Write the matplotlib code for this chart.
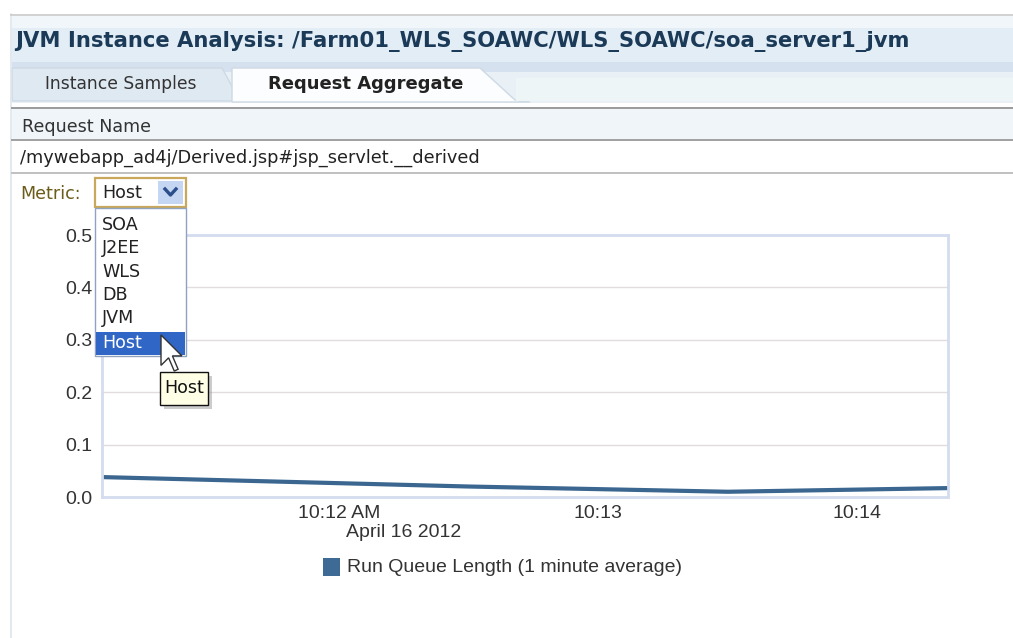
import matplotlib
matplotlib.use("Agg")
import matplotlib.pyplot as plt
import matplotlib.dates as mdates
from matplotlib.patches import Rectangle, Polygon
from datetime import datetime
import numpy as np

# ---------------- data ----------------
title_text = "JVM Instance Analysis: /Farm01_WLS_SOAWC/WLS_SOAWC/soa_server1_jvm"
tab_labels = ["Instance Samples", "Request Aggregate"]
header_label = "Request Name"
request_name = "/mywebapp_ad4j/Derived.jsp#jsp_servlet.__derived"
metric_label = "Metric:"
metric_options = ["SOA", "J2EE", "WLS", "DB", "JVM", "Host"]
selected_metric = "Host"

times = ["10:11:05", "10:12:30", "10:13:30", "10:14:21"]
run_queue = [0.038, 0.020, 0.010, 0.017]
series_name = "Run Queue Length (1 minute average)"
y_ticks = [0.0, 0.1, 0.2, 0.3, 0.4, 0.5]
x_ticks = ["10:12", "10:13", "10:14"]
x_tick_labels = ["10:12 AM", "10:13", "10:14"]
date_label = "April 16 2012"

W, H = 1013, 638
fig = plt.figure(figsize=(W / 100, H / 100), dpi=100)
fig.patch.set_facecolor("white")

UI_FONT = "DejaVu Sans"
CH_FONT = "Liberation Sans"
UI_FS = 12.6
CH_FS = 14

def t(s):
    fmt = "%Y-%m-%d %H:%M:%S" if s.count(":") == 2 else "%Y-%m-%d %H:%M"
    return mdates.date2num(datetime.strptime("2012-04-16 " + s, fmt))

# ---------------- background UI layer ----------------
bg = fig.add_axes([0, 0, 1, 1], zorder=0)
bg.set_xlim(0, W); bg.set_ylim(H, 0); bg.axis("off")

def rect(ax, x0, y0, x1, y1, **kw):
    ax.add_patch(Rectangle((x0, y0), x1 - x0, y1 - y0, **kw))

# left border line
bg.plot([11, 11], [14, H], color="#dde6ee", lw=1.2)
# top line
bg.plot([11, W], [15, 15], color="#c9c9c9", lw=1.2)
# title bar
rect(bg, 12, 16, W, 62, facecolor="#e2edf6", edgecolor="none")
rect(bg, 12, 16, W, 28, facecolor="#f1f6fb", edgecolor="none")
bg.text(15, 42, title_text, fontsize=15.2, fontweight="bold", color="#1b3a57",
        va="center", ha="left", family=UI_FONT)
# tab strip
rect(bg, 12, 62, W, 103, facecolor="#e9f1f7", edgecolor="none")
rect(bg, 12, 62, W, 72, facecolor="#d6e1ef", edgecolor="none")
# inactive tab
bg.add_patch(Polygon([(12, 68), (222, 68), (240, 101), (12, 101)], closed=True,
                     facecolor="#dfe9f2", edgecolor="#cfd9e4", lw=1))
# active tab
bg.add_patch(Polygon([(232, 68), (480, 68), (515, 100), (530, 102), (232, 102)], closed=True,
                     facecolor="#fbfdfe", edgecolor="#cfd9e4", lw=1))
rect(bg, 516, 78, W, 101, facecolor="#eef5f6", edgecolor="none")
bg.text(121, 84, tab_labels[0], fontsize=12.3, color="#333333", ha="center", va="center", family=UI_FONT)
bg.text(366, 84, tab_labels[1], fontsize=13, fontweight="bold", color="#222222", ha="center", va="center", family=UI_FONT)
# header row
bg.plot([12, W], [108, 108], color="#9a9a9a", lw=1.4)
rect(bg, 12, 109, W, 140, facecolor="#eff5f9", edgecolor="none")
bg.text(22, 127, header_label, fontsize=UI_FS, color="#333333", ha="left", va="center", family=UI_FONT)
bg.plot([12, W], [140, 140], color="#a0a0a0", lw=1.4)
bg.text(20, 158, request_name, fontsize=UI_FS + 0.2, color="#222222", ha="left", va="center", family=UI_FONT)
bg.plot([12, W], [173, 173], color="#c0c0c0", lw=1.4)
# metric label
bg.text(20, 194, metric_label, fontsize=UI_FS, color="#6b5c1a", ha="left", va="center", family=UI_FONT)

# ---------------- chart ----------------
L, R, T, B = 102, 948, 235, 497
ax = fig.add_axes([L / W, 1 - B / H, (R - L) / W, (B - T) / H], zorder=1)
ax.set_facecolor("white")
xt = [t(s) for s in times]
ax.plot(xt, run_queue, color="#3a6690", lw=3, solid_capstyle="butt")
ax.set_xlim(t("10:11:05"), t("10:14:21"))
ax.set_ylim(0, 0.5)
ax.set_yticks(y_ticks)
ax.set_yticklabels([f"{v:.1f}" for v in y_ticks], fontsize=CH_FS, color="#333333", family=CH_FONT)
ax.set_xticks([t(s) for s in x_ticks])
ax.set_xticklabels(x_tick_labels, fontsize=CH_FS, color="#333333", family=CH_FONT)
ax.tick_params(length=0)
ax.tick_params(axis="x", pad=6)
ax.tick_params(axis="y", pad=7)
ax.grid(axis="y", color="#e3dcdc", lw=1)
for s in ax.spines.values():
    s.set_color("#d3ddef"); s.set_linewidth(2)
ax.annotate(date_label, xy=(t(x_ticks[0]), 0), xycoords=("data", "axes fraction"),
            xytext=(7, -27), textcoords="offset pixels", ha="left", va="top",
            fontsize=CH_FS, color="#333333", family=CH_FONT, annotation_clip=False)

# ---------------- overlay (legend, dropdown, tooltip) ----------------
ov = fig.add_axes([0, 0, 1, 1], zorder=2)
ov.set_xlim(0, W); ov.set_ylim(H, 0); ov.axis("off"); ov.patch.set_alpha(0)

# legend
rect(ov, 323, 558, 340, 576, facecolor="#3e6a96", edgecolor="none")
ov.text(347, 567, series_name, fontsize=CH_FS, color="#333333", ha="left", va="center", family=CH_FONT)

# dropdown box
rect(ov, 95, 178, 186, 207, facecolor="white", edgecolor="#c9a85c", lw=1.6)
ov.text(102, 193, selected_metric, fontsize=UI_FS, color="#222222", ha="left", va="center", family=UI_FONT)
rect(ov, 158, 181, 183, 204, facecolor="#c5d6f2", edgecolor="none")
ov.plot([165, 170.5, 176], [189, 195, 189], color="#2a4f8a", lw=2.4)

# dropdown list
rect(ov, 95, 208, 186, 356, facecolor="white", edgecolor="#8fa3bf", lw=1)
item_y = [225, 248, 272, 295, 318, 343]
for name, y in zip(metric_options, item_y):
    if name == selected_metric:
        rect(ov, 96, 332, 185, 355, facecolor="#3066c6", edgecolor="none")
        ov.text(102, y, name, fontsize=UI_FS, color="white", ha="left", va="center", family=UI_FONT)
    else:
        ov.text(102, y, name, fontsize=UI_FS, color="#222222", ha="left", va="center", family=UI_FONT)

# tooltip with shadow
rect(ov, 164, 376, 212, 409, facecolor="#9a9a9a", edgecolor="none", alpha=0.5)
rect(ov, 160, 372, 208, 405, facecolor="#ffffe6", edgecolor="#111111", lw=1)
ov.text(184, 388, selected_metric, fontsize=UI_FS, color="#111111", ha="center", va="center", family=UI_FONT)

# mouse cursor
cur = np.array([(0, 0), (0, 16), (4, 12), (7, 19), (9, 18), (6, 11), (11, 11)]) * 1.9
cur = cur + np.array([161, 335])
ov.add_patch(Polygon(cur, closed=True, facecolor="white", edgecolor="#333333", lw=1))

fig.savefig("out.png", dpi=100, facecolor="white")
